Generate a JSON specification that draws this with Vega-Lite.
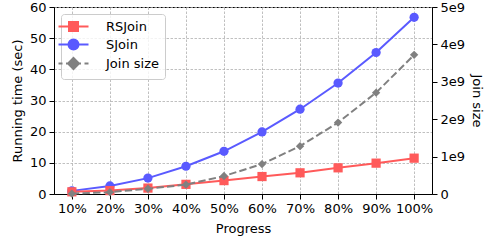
{
  "$schema": "https://vega.github.io/schema/vega-lite/v6.json",
  "width": 378,
  "height": 187,
  "autosize": {"type": "none"},
  "padding": {"left": 54, "top": 7, "right": 58, "bottom": 46},
  "background": "white",
  "config": {
    "font": "DejaVu Sans",
    "view": {"stroke": "#000000", "strokeWidth": 1},
    "axis": {
      "labelFont": "DejaVu Sans",
      "titleFont": "DejaVu Sans",
      "labelFontSize": 13,
      "titleFontSize": 13,
      "titleFontWeight": "normal",
      "labelColor": "#000000",
      "titleColor": "#000000",
      "domainColor": "#000000",
      "tickColor": "#000000",
      "tickSize": 5,
      "labelPadding": 3,
      "gridColor": "#b0b0b0",
      "gridDash": [2.5, 1.5],
      "gridWidth": 0.8
    }
  },
  "data": {
    "values": [
      {"series": "SJoin", "progress": "10%", "value": 1.0},
      {"series": "SJoin", "progress": "20%", "value": 2.6},
      {"series": "SJoin", "progress": "30%", "value": 5.1},
      {"series": "SJoin", "progress": "40%", "value": 8.9},
      {"series": "SJoin", "progress": "50%", "value": 13.7},
      {"series": "SJoin", "progress": "60%", "value": 19.9},
      {"series": "SJoin", "progress": "70%", "value": 27.2},
      {"series": "SJoin", "progress": "80%", "value": 35.6},
      {"series": "SJoin", "progress": "90%", "value": 45.4},
      {"series": "SJoin", "progress": "100%", "value": 56.7},
      {"series": "RSJoin", "progress": "10%", "value": 0.7},
      {"series": "RSJoin", "progress": "20%", "value": 1.1},
      {"series": "RSJoin", "progress": "30%", "value": 1.9},
      {"series": "RSJoin", "progress": "40%", "value": 3.1},
      {"series": "RSJoin", "progress": "50%", "value": 4.3},
      {"series": "RSJoin", "progress": "60%", "value": 5.6},
      {"series": "RSJoin", "progress": "70%", "value": 6.8},
      {"series": "RSJoin", "progress": "80%", "value": 8.4},
      {"series": "RSJoin", "progress": "90%", "value": 9.9},
      {"series": "RSJoin", "progress": "100%", "value": 11.5},
      {"series": "Join size", "progress": "10%", "value": 10000000},
      {"series": "Join size", "progress": "20%", "value": 50000000},
      {"series": "Join size", "progress": "30%", "value": 140000000},
      {"series": "Join size", "progress": "40%", "value": 250000000},
      {"series": "Join size", "progress": "50%", "value": 480000000},
      {"series": "Join size", "progress": "60%", "value": 800000000},
      {"series": "Join size", "progress": "70%", "value": 1280000000},
      {"series": "Join size", "progress": "80%", "value": 1910000000},
      {"series": "Join size", "progress": "90%", "value": 2710000000},
      {"series": "Join size", "progress": "100%", "value": 3720000000}
    ]
  },
  "encoding": {
    "x": {
      "field": "progress",
      "type": "ordinal",
      "sort": ["10%", "20%", "30%", "40%", "50%", "60%", "70%", "80%", "90%", "100%"],
      "scale": {"type": "point", "padding": 0.47},
      "axis": {"title": "Progress", "labelAngle": 0, "grid": true, "titlePadding": 7}
    },
    "color": {
      "field": "series",
      "type": "nominal",
      "scale": {
        "domain": ["RSJoin", "SJoin", "Join size"],
        "range": ["#ff5a5a", "#5a5aff", "#808080"]
      },
      "legend": {
        "title": null,
        "orient": "top-left",
        "offset": 7,
        "padding": 6,
        "fillColor": "rgba(255,255,255,0.8)",
        "strokeColor": "#cccccc",
        "cornerRadius": 3,
        "labelFont": "DejaVu Sans",
        "labelFontSize": 13,
        "labelColor": "#000000",
        "symbolSize": 100,
        "symbolStrokeWidth": 2,
        "labelOffset": 26,
        "rowPadding": 0,
        "encode": {
          "symbols": {
            "update": {
              "shape": {"signal": "datum.value === 'RSJoin' ? 'M-3,0H3M-0.9,-0.9H0.9V0.9H-0.9Z' : (datum.value === 'SJoin' ? 'M-3,0H3M1,0A1,1 0 1,1 -1,0A1,1 0 1,1 1,0Z' : 'M-3,0H-2.2M-1.5,0H-0.8M0.8,0H1.5M2.2,0H3M0,-1.1L1.1,0L0,1.1L-1.1,0Z')"},
              "fill": {"signal": "scale('color', datum.value)"},
              "stroke": {"signal": "scale('color', datum.value)"},
              "opacity": {"value": 1}
            }
          }
        }
      }
    }
  },
  "layer": [
    {
      "transform": [{"filter": "datum.series !== 'Join size'"}],
      "encoding": {
        "y": {
          "field": "value",
          "type": "quantitative",
          "scale": {"domain": [0, 60], "nice": false},
          "axis": {"title": "Running time (sec)", "values": [0, 10, 20, 30, 40, 50, 60], "grid": true, "titlePadding": 5}
        }
      },
      "layer": [
        {"mark": {"type": "line", "strokeWidth": 2}},
        {
          "transform": [{"filter": "datum.series === 'SJoin'"}],
          "mark": {"type": "point", "filled": true, "opacity": 1, "size": 85, "shape": "circle"}
        },
        {
          "transform": [{"filter": "datum.series === 'RSJoin'"}],
          "mark": {"type": "point", "filled": true, "opacity": 1, "size": 85, "shape": "square"}
        }
      ]
    },
    {
      "transform": [{"filter": "datum.series === 'Join size'"}],
      "encoding": {
        "y": {
          "field": "value",
          "type": "quantitative",
          "scale": {"domain": [0, 5000000000], "nice": false},
          "axis": {
            "orient": "right",
            "title": "Join size",
            "values": [0, 1000000000, 2000000000, 3000000000, 4000000000, 5000000000],
            "labelExpr": "datum.value === 0 ? '0' : format(datum.value / 1e9, 'd') + 'e9'",
            "grid": false,
            "titlePadding": 5
          }
        }
      },
      "layer": [
        {"mark": {"type": "line", "strokeWidth": 2, "strokeDash": [7.4, 3.2]}},
        {"mark": {"type": "point", "filled": true, "opacity": 1, "size": 70, "shape": "diamond"}}
      ]
    }
  ],
  "resolve": {"scale": {"y": "independent"}}
}
